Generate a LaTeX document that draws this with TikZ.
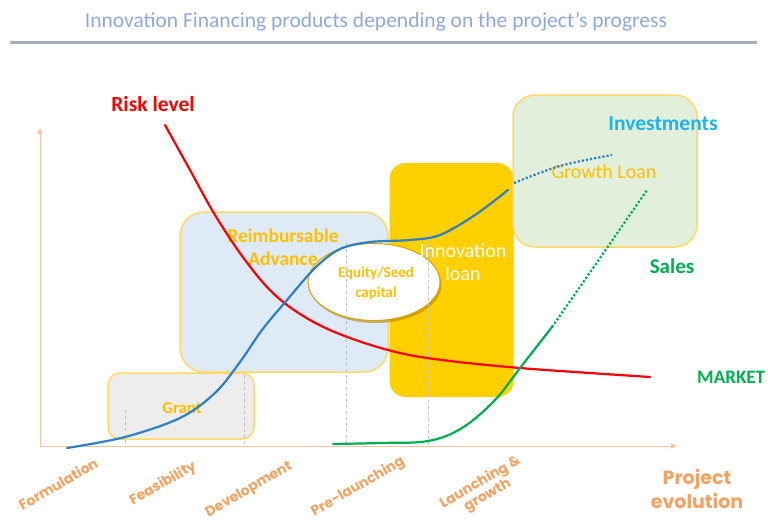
\documentclass[tikz,border=0pt]{standalone}
\usepackage{fontspec}
\setmainfont{Carlito}
\newfontfamily\gothic{Poppins}
\usetikzlibrary{shapes.geometric,shadows,arrows.meta}
\definecolor{titleblue}{HTML}{8EA9DB}
\definecolor{rulegray}{HTML}{A9B2BC}
\definecolor{axisor}{HTML}{F8C3A0}
\definecolor{labor}{HTML}{F4A262}
\definecolor{gold}{HTML}{FFC000}
\definecolor{goldline}{HTML}{FFD966}
\definecolor{goldfill}{HTML}{FFD000}
\definecolor{grantfill}{HTML}{EDEDED}
\definecolor{reimbfill}{HTML}{DEEBF7}
\definecolor{growthfill}{HTML}{E2EFDA}
\definecolor{invblue}{HTML}{2E7FC4}
\definecolor{cyanlab}{HTML}{1FB4EC}
\definecolor{salesgreen}{HTML}{00B050}
\definecolor{dashgray}{HTML}{BFBFBF}
\tikzset{
  fbox/.style={draw=goldline, line width=1.5pt, inner sep=0pt},
  boxtext/.style={text=gold, align=center, font=\fontsize{19.5}{23}\selectfont\bfseries},
  axlab/.style={text=labor, rotate=30, align=center, font=\gothic\bfseries\fontsize{14}{14.5}\selectfont},
  guide/.style={draw=dashgray, dashed, line width=0.8pt},
  curve/.style={line width=2.2pt, line cap=round},
}
\begin{document}
\begin{tikzpicture}[x=1pt,y=-1pt]
\useasboundingbox (0,0) rectangle (768,520);
% title
\node (title) at (376,22) {\color{titleblue}\fontsize{21.5}{24}\selectfont Innovation Financing products depending on the project’s progress};
\draw[rulegray, line width=3pt] (10,42) -- (757,42);
% boxes
\node[fbox, fill=grantfill, rounded corners=12pt, minimum width=146pt, minimum height=66pt] (grant) at (181,406) {};
\node[fbox, fill=reimbfill, rounded corners=24pt, minimum width=208pt, minimum height=160pt] (reimb) at (284,292) {};
\node[fill=goldfill, rounded corners=16pt, minimum width=124pt, minimum height=234pt, inner sep=0pt] (innov) at (451.5,280) {};
\node[fbox, fill=growthfill, rounded corners=22pt, minimum width=184pt, minimum height=152pt] (growth) at (605,171) {};
% ellipse
\node[ellipse, draw=gold!85!black, line width=1pt, fill=white, minimum width=132pt, minimum height=77pt,
  drop shadow={shadow xshift=1.5pt, shadow yshift=-2.5pt, fill=gold!70!black, opacity=0.6}] (equity) at (374,282) {};
% box labels
\node[text=gold, font=\fontsize{16.8}{19}\selectfont\bfseries] (granttxt) at (182,408) {Grant};
\node[boxtext] (reimbtxt) at (283,247) {Reimbursable\\Advance};
\node[text=white, align=center, font=\fontsize{20}{23}\selectfont] (innovtxt) at (463,262) {Innovation\\loan};
\node[text=gold, font=\fontsize{20}{22}\selectfont] (growthtxt) at (604,172) {Growth Loan};
\node[text=gold, align=center, font=\fontsize{15}{20}\selectfont\bfseries] (equitytxt) at (376,283) {Equity/Seed\\capital};
% axes
\coordinate (origin) at (40,446);
\coordinate (ytop) at (40,128);
\coordinate (xend) at (677,446);
\draw[axisor, line width=1pt, -{Triangle[length=6pt,width=5pt]}] (origin) -- (ytop);
\draw[axisor, line width=1pt, -{Triangle[length=6pt,width=5pt]}] (origin) -- (xend);
% guides
\draw[guide] (125,410) -- (125,446);
\draw[guide] (244,375) -- (244,446);
\draw[guide] (346,243) -- (346,446);
\draw[guide] (428,232) -- (428,446);
% red risk curve
\draw[curve, red] plot[smooth, tension=0.6] coordinates {(165,125) (190,170) (215,215) (245,260) (275,295) (310,320) (350,338) (400,353) (450,361) (520,368) (590,373) (650,377)};
% blue investments curve
\draw[curve, invblue] plot[smooth, tension=0.55] coordinates {(67,448) (125,437) (180,418) (215,393) (240,362) (262,330) (287,300) (315,268) (340,249) (370,242) (410,240) (440,235) (475,215) (508,190)};
\draw[invblue, line width=2.2pt, dotted] plot[smooth, tension=0.6] coordinates {(514,183) (560,166) (612,155)};
% green sales curve
\draw[curve, salesgreen] plot[smooth, tension=0.6] coordinates {(333,444) (380,443) (428,441) (462,428) (495,400) (520,368) (552,327)};
\draw[salesgreen, line width=2.2pt, dotted] plot[smooth, tension=0.6] coordinates {(552,327) (600,258) (647,190)};
% curve labels
\node[text=red, font=\fontsize{21.5}{24}\selectfont\bfseries] (risk) at (153,104) {Risk level};
\node[text=cyanlab, font=\fontsize{21.5}{24}\selectfont\bfseries] (invest) at (663,124) {Investments};
\node[text=salesgreen, font=\fontsize{21}{24}\selectfont\bfseries] (sales) at (672,266) {Sales};
\node[text=salesgreen, font=\fontsize{19}{21}\selectfont\bfseries, anchor=west, inner sep=0pt] (market) at (697,377) {MARKET};
% axis labels
\node[axlab] (l1) at (58,484) {Formulation};
\node[axlab] (l2) at (163,484) {Feasibility};
\node[axlab] (l3) at (249,490) {Development};
\node[axlab] (l4) at (358,487) {Pre-launching};
\node[axlab] (l5) at (484,489) {Launching \&\\growth};
\node[text=labor, align=center, font=\gothic\bfseries\fontsize{19}{24}\selectfont] (proj) at (697,489) {Project\\evolution};
\end{tikzpicture}
\end{document}
